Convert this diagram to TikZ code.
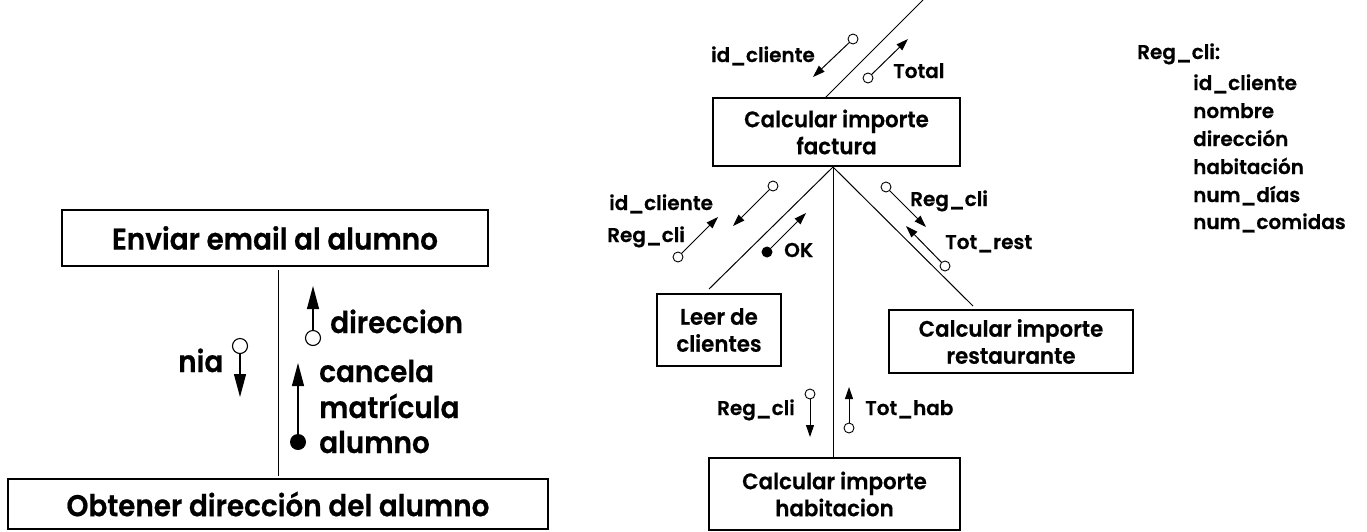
\documentclass[tikz,border=0pt]{standalone}
\usepackage{fontspec}
\IfFontExistsTF{Poppins SemiBold}{%
  \setmainfont{Poppins SemiBold}[FakeBold=0.5]%
  \newfontfamily\narrowfont[FakeStretch=0.93,FakeBold=0.6]{Poppins SemiBold}%
  \newfontfamily\boxfont[FakeStretch=0.95,FakeBold=0.5]{Poppins SemiBold}}{%
  \setmainfont{Poppins}[FakeBold=1]%
  \newfontfamily\narrowfont[FakeStretch=0.93,FakeBold=1]{Poppins}%
  \newfontfamily\boxfont[FakeStretch=0.95,FakeBold=1]{Poppins}}
\usetikzlibrary{arrows.meta}
\begin{document}
\begin{tikzpicture}[x=1pt,y=-1pt,
  box/.style={draw, line width=1.3pt, inner sep=0pt, align=center, font=\boxfont\fontsize{22.5}{27}\selectfont},
  bigbox/.style={box, font=\narrowfont\fontsize{30}{34}\selectfont},
  lbl/.style={inner sep=0pt, font=\fontsize{20}{24}\selectfont},
  biglbl/.style={inner sep=0pt, font=\narrowfont\fontsize{30}{35}\selectfont},
  oc/.style={circle, draw, line width=0.9pt, fill=white, inner sep=0pt, minimum size=10pt},
  bigoc/.style={oc, minimum size=15pt, line width=1.1pt},
  fc/.style={circle, fill=black, inner sep=0pt, minimum size=11pt},
  bigfc/.style={fc, minimum size=16pt},
  flow/.style={line width=1pt, -{Triangle[length=12pt,width=8pt]}},
  bigflow/.style={line width=1.2pt, -{Triangle[length=23pt,width=12pt]}},
  link/.style={line width=1pt}
]
\useasboundingbox (0,0) rectangle (1367,531);

% ---------- left diagram ----------
\node[bigbox, minimum width=426pt, minimum height=56pt] (env) at (275,238) {Enviar email al alumno};
\node[bigbox, minimum width=540pt, minimum height=50pt] (obt) at (278,504) {Obtener dirección del alumno};
\coordinate (lv1) at (278,270);
\coordinate (lv2) at (278,476);
\draw[link] (lv1) -- (lv2);

\node[bigoc] (nia) at (240,346) {};
\coordinate (niat) at (240,397);
\draw[bigflow] (nia) -- (niat);
\node[biglbl, anchor=base west] (nial) at (178,372) {nia};

\node[bigoc] (dir) at (313,338) {};
\coordinate (dirt) at (313,286);
\draw[bigflow] (dir) -- (dirt);
\node[biglbl, anchor=base west] (dirl) at (330,333) {direccion};

\node[bigfc] (can) at (298,442) {};
\coordinate (cant) at (298,363);
\draw[bigflow] (can) -- (cant);
\node[biglbl, anchor=base west] (canl1) at (319,382) {cancela};
\node[biglbl, anchor=base west] (canl2) at (319,418) {matrícula};
\node[biglbl, anchor=base west] (canl3) at (319,453) {alumno};

% ---------- right diagram ----------
\node[box, minimum width=247pt, minimum height=68pt] (fac) at (836.5,132) {Calcular importe\\factura};
\node[box, minimum width=124pt, minimum height=72pt] (leer) at (719,330) {Leer de\\clientes};
\node[box, minimum width=244pt, minimum height=63pt] (rest) at (1011,341.5) {Calcular importe\\restaurante};
\node[box, minimum width=251pt, minimum height=72pt] (hab) at (834.5,494) {Calcular importe\\habitacion};

\coordinate (top) at (923,0);
\coordinate (ftop) at (825,98);
\coordinate (j) at (833,167);
\coordinate (leerc) at (709,289);
\coordinate (restc) at (973,306);
\coordinate (habc) at (833,458);
\draw[link] (top) -- (ftop);
\draw[link] (j) -- (leerc);
\draw[link] (j) -- (restc);
\draw[link] (j) -- (habc);

% flows on top link
\node[oc] (a1) at (853,39) {};
\coordinate (a1t) at (813,77);
\draw[flow] (a1) -- (a1t);
\node[lbl, anchor=base east] (a1l) at (815,62) {id\_cliente};

\node[oc] (a2) at (868,78) {};
\coordinate (a2t) at (908,39);
\draw[flow] (a2) -- (a2t);
\node[lbl, anchor=base west] (a2l) at (893,78) {Total};

% flows to Leer de clientes
\node[oc] (b1) at (773,186) {};
\coordinate (b1t) at (733,226);
\draw[flow] (b1) -- (b1t);
\node[lbl, anchor=base west] (b1l) at (609,210) {id\_cliente};

\node[oc] (b2) at (678,257) {};
\coordinate (b2t) at (718,217);
\draw[flow] (b2) -- (b2t);
\node[lbl, anchor=base west] (b2l) at (607,242) {Reg\_cli};

\node[fc] (b3) at (767,252) {};
\coordinate (b3t) at (806,213);
\draw[flow] (b3) -- (b3t);
\node[lbl, anchor=base west] (b3l) at (784,257) {OK};

% flows to restaurante
\node[oc] (c1) at (886,187) {};
\coordinate (c1t) at (926,227);
\draw[flow] (c1) -- (c1t);
\node[lbl, anchor=base west] (c1l) at (910,206) {Reg\_cli};

\node[oc] (c2) at (945,266) {};
\coordinate (c2t) at (906,226);
\draw[flow] (c2) -- (c2t);
\node[lbl, anchor=base west] (c2l) at (945,249) {Tot\_rest};

% flows to habitacion
\node[oc] (d1) at (810,394) {};
\coordinate (d1t) at (810,437);
\draw[flow] (d1) -- (d1t);
\node[lbl, anchor=base east] (d1l) at (795,415) {Reg\_cli};

\node[oc] (d2) at (849,428) {};
\coordinate (d2t) at (849,387);
\draw[flow] (d2) -- (d2t);
\node[lbl, anchor=base west] (d2l) at (865,415) {Tot\_hab};

% Reg_cli structure
\node[lbl, anchor=base west] (rc) at (1137,59) {Reg\_cli:};
\node[lbl, anchor=base west] (rc1) at (1193,90) {id\_cliente};
\node[lbl, anchor=base west] (rc2) at (1193,118) {nombre};
\node[lbl, anchor=base west] (rc3) at (1193,146) {dirección};
\node[lbl, anchor=base west] (rc4) at (1193,174) {habitación};
\node[lbl, anchor=base west] (rc5) at (1193,202) {num\_días};
\node[lbl, anchor=base west] (rc6) at (1193,229) {num\_comidas};
\end{tikzpicture}
\end{document}
